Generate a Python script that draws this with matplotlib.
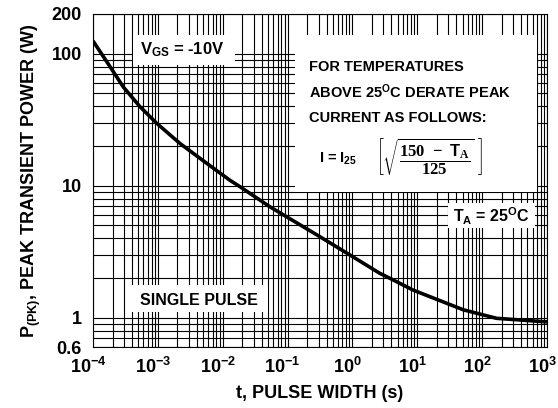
import matplotlib
matplotlib.use("Agg")
import matplotlib.pyplot as plt
import matplotlib.transforms as mtransforms
from matplotlib.patches import Rectangle

plt.rcParams['font.family'] = ['Liberation Sans', 'DejaVu Sans']
plt.rcParams['font.weight'] = 'bold'
plt.rcParams['mathtext.fontset'] = 'custom'
plt.rcParams['mathtext.rm'] = 'Liberation Sans:bold'
plt.rcParams['mathtext.bf'] = 'Liberation Sans:bold'
plt.rcParams['mathtext.it'] = 'Liberation Sans:bold'
plt.rcParams['mathtext.sf'] = 'Liberation Serif:bold'
plt.rcParams['mathtext.default'] = 'rm'

# Data
pulse_width_s = [1.0e-4, 1.83e-4, 2.93e-4, 5.3e-4, 9.6e-4, 2.19e-3, 5.65e-3, 0.0129, 0.0184,
                 0.0533, 0.315, 0.912, 2.64, 3.77, 8.61, 50.8, 166, 1000]
peak_power_w = [125, 79.8, 56, 39.7, 29.7, 20.9, 14.8, 11.0, 9.84,
                6.93, 4.11, 2.99, 2.17, 1.99, 1.62, 1.15, 0.99, 0.93]

x_ticks = [1e-4, 1e-3, 1e-2, 1e-1, 1e0, 1e1, 1e2, 1e3]
x_tick_labels = [r'$10^{-4}$', r'$10^{-3}$', r'$10^{-2}$', r'$10^{-1}$',
                 r'$10^{0}$', r'$10^{1}$', r'$10^{2}$', r'$10^{3}$']
y_ticks = [0.6, 1, 10, 100, 200]
y_tick_labels = ['0.6', '1', '10', '100', '200']

fig = plt.figure(figsize=(5.58, 4.08), dpi=100)
ax = fig.add_axes([0.1667, 0.1495, 0.8136, 0.8162])
ax.set_xscale('log')
ax.set_yscale('log')
ax.set_xlim(1e-4, 1e3)
ax.set_ylim(0.6, 200)

ax.set_axisbelow(True)
ax.grid(True, which='both', color='black', linewidth=0.8)
ax.set_xticks(x_ticks)
ax.set_xticklabels(x_tick_labels, fontsize=13)
ax.set_yticks(y_ticks)
ax.set_yticklabels(y_tick_labels, fontsize=13, fontweight='bold')
ax.tick_params(which='both', length=0)
ax.tick_params(axis='x', pad=7)
ax.tick_params(axis='y', pad=8)
shift = mtransforms.ScaledTranslation(-5 / 100, 0, fig.dpi_scale_trans)
for lbl in ax.get_xticklabels():
    lbl.set_transform(lbl.get_transform() + shift)
for s in ax.spines.values():
    s.set_color('black')
    s.set_linewidth(0.8)

ax.plot(pulse_width_s, peak_power_w, color='black', linewidth=2.6, zorder=4,
        solid_capstyle='butt', solid_joinstyle='round')

def box(x0, y0, x1, y1):
    ax.add_patch(Rectangle((x0, y0), x1 - x0, y1 - y0, transform=ax.transAxes,
                           facecolor='white', edgecolor='none', zorder=2))

box(0.088, 0.847, 0.313, 0.937)
box(0.445, 0.465, 0.978, 0.937)
box(0.782, 0.357, 0.974, 0.432)
box(0.075, 0.105, 0.385, 0.186)

ax.text(0.196, 0.893, r'V$_{\mathrm{GS}}$ = -10V', transform=ax.transAxes,
        ha='center', va='center', fontsize=12, fontweight='bold', zorder=5)
ax.text(0.476, 0.841, 'FOR TEMPERATURES', transform=ax.transAxes,
        ha='left', va='center', fontsize=10.5, fontweight='bold', zorder=5)
ax.text(0.476, 0.766, r'ABOVE 25$^{\mathrm{O}}$C DERATE PEAK', transform=ax.transAxes,
        ha='left', va='center', fontsize=10.5, fontweight='bold', zorder=5)
ax.text(0.476, 0.688, 'CURRENT AS FOLLOWS:', transform=ax.transAxes,
        ha='left', va='center', fontsize=10.5, fontweight='bold', zorder=5)
ax.text(0.498, 0.566, r'I = I$_{25}$', transform=ax.transAxes,
        ha='left', va='center', fontsize=10.5, fontweight='bold', zorder=5)
ax.text(0.624, 0.571, r'$\left[\sqrt{\dfrac{\mathsf{150\ -\ }\mathrm{T}_{\mathsf{A}}}{\mathsf{125}}}\ \right]$',
        transform=ax.transAxes, ha='left', va='center', fontsize=12, zorder=5)
ax.text(0.877, 0.393, r'T$_{\mathrm{A}}$ = 25$^{\mathrm{O}}$C', transform=ax.transAxes,
        ha='center', va='center', fontsize=11.5, fontweight='bold', zorder=5)
ax.text(0.233, 0.141, 'SINGLE PULSE', transform=ax.transAxes,
        ha='center', va='center', fontsize=11.5, fontweight='bold', zorder=5)

ax.set_xlabel('t, PULSE WIDTH (s)', fontsize=13, fontweight='bold', labelpad=6)
ax.set_ylabel(r'P$_{\mathrm{(PK)}}$, PEAK TRANSIENT POWER (W)', fontsize=13,
              fontweight='bold', labelpad=6)

fig.savefig('out.png', dpi=100)
